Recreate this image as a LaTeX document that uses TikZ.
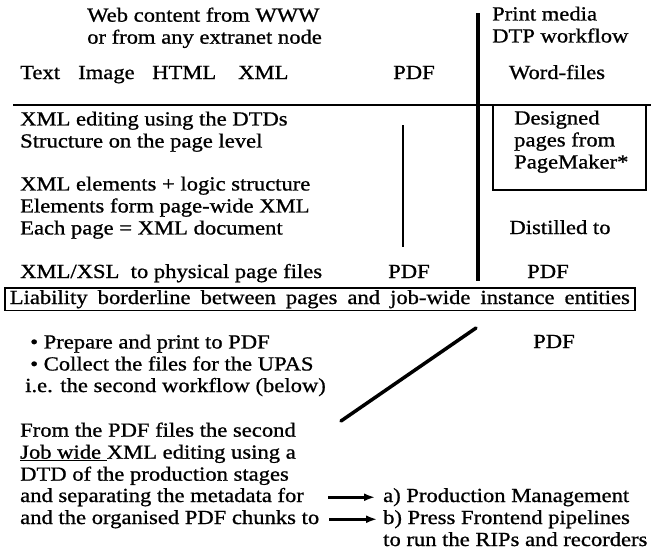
\documentclass[tikz,border=0pt]{standalone}
\usepackage{fontspec}
\setmainfont{Liberation Serif}[FakeStretch=1.13,FakeBold=0.9]
\usetikzlibrary{arrows.meta}

\tikzset{
  blk/.style={inner sep=0pt, font=\fontsize{20}{22}\selectfont, align=left, anchor=north west},
  one/.style={inner sep=0pt, font=\fontsize{20}{22}\selectfont, text height=14pt, text depth=4.5pt, anchor=base west},
  mid/.style={one, anchor=base},
  rule/.style={line width=1.6pt},
  bar/.style={line width=4.5pt},
  flow/.style={line width=2.6pt, -{Latex[length=11pt,width=8pt]}}
}

\begin{document}
\begin{tikzpicture}[x=1pt,y=-1pt]
    \useasboundingbox (0,0) rectangle (651,554);
    % headings of the two workflows
    \node[blk] (web) at (87,7.4) {Web content from WWW\\or from any extranet node};
    \node[blk] (dtp) at (492,6.4) {Print media\\DTP workflow};
    % source formats
    \node[one] (srctext) at (20,79) {Text};
    \node[one] (srcimg) at (78,79) {Image};
    \node[one] (srchtml) at (152,79) {HTML};
    \node[one] (srcxml) at (238,79) {XML};
    \node[mid] (srcpdf) at (414,79) {PDF};
    \node[mid] (srcword) at (557,79) {Word-files};
    % dividers
    \draw[rule] (13,105) -- (651,105); % head line
    \draw[bar] (478,13) -- (478,281); % web | print
    \draw[rule] (403,125) -- (403,247); % pdf passes through
    % page level
    \node[blk] (edit) at (20,111.4) {XML editing using the DTDs\\Structure on the page level};
    \node[blk] (elems) at (20,176.4) {XML elements + logic structure\\Elements form page-wide XML\\Each page = XML document};
    \node[one] (xsl) at (20,278) {XML/XSL\ \ to physical page files};
    \node[mid] (pdfweb) at (409,278) {PDF};
    % DTP column
    \draw[rule] (493,105) rectangle (646,190);
    \node[blk] (designed) at (514,110.4) {Designed\\pages from\\PageMaker*};
    \node[mid] (distil) at (560,234) {Distilled to};
    \node[mid] (pdfdtp) at (548,278) {PDF};
    % borderline
    \node[one, draw, rule, inner xsep=5pt, inner ysep=2pt] (liab) at (4,304)
        {\makebox[620pt][s]{Liability borderline between pages and job-wide instance entities}};
    % job level
    \node[blk] (prep) at (30,334.4) {\textbullet\ Prepare and print to PDF\\\textbullet\ Collect the files for the UPAS};
    \node[one] (ie) at (25,392) {i.e. the second workflow (below)};
    \node[mid] (pdfout) at (554,348) {PDF};
    \draw[bar, line width=3.5pt, line cap=round] (476,328) -- (341,421); % into the second workflow
    \node[blk] (jobxml) at (20,422.4) {From the PDF files the second\\\underline{Job wide }XML editing using a\\DTD of the production stages};
    \node[one] (meta) at (20,502) {and separating the metadata for};
    \node[one] (chunks) at (20,524) {and the organised PDF chunks to};
    \node[one] (prodm) at (383,502) {a) Production Management};
    \node[one] (press) at (383,524) {b) Press Frontend pipelines};
    \node[one] (rips) at (383,546) {to run the RIPs and recorders};
    \draw[flow, shorten <=24pt, shorten >=8pt] (meta) -- (prodm);
    \draw[flow, shorten <=10pt, shorten >=6pt] (chunks) -- (press);
\end{tikzpicture}
\end{document}
